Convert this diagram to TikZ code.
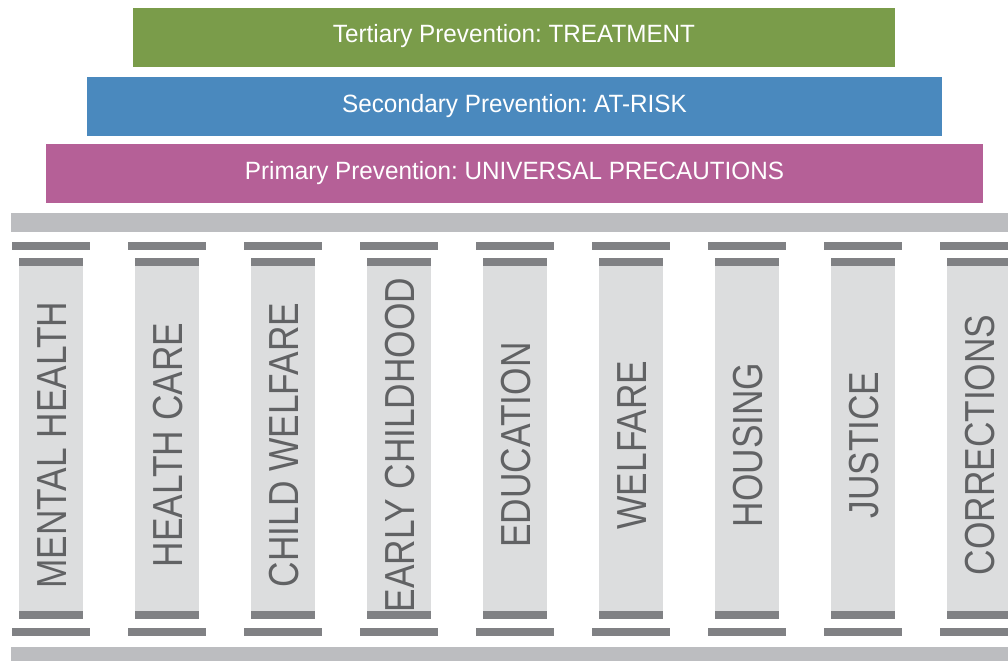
\documentclass[tikz,border=0pt]{standalone}
\usepackage{fontspec}
\setmainfont{Liberation Sans}[FakeStretch=0.84]
\newfontfamily\bannerfont{Liberation Sans}[FakeStretch=0.97]
\frenchspacing
\definecolor{tertgreen}{HTML}{7A9C4A}
\definecolor{secblue}{HTML}{4A89BE}
\definecolor{primpink}{HTML}{B56097}
\definecolor{slabgrey}{HTML}{BCBDC0}
\definecolor{capgrey}{HTML}{808184}
\definecolor{shaftgrey}{HTML}{DCDDDE}
\definecolor{labelgrey}{HTML}{616264}
\tikzset{
    banner/.style={minimum height=59, inner sep=0pt, text=white,
        font=\bannerfont\fontsize{25}{30}\selectfont, text height=18pt, text depth=7pt},
    pillarlabel/.style={rotate=90, inner sep=0pt, text=labelgrey,
        font=\fontsize{42}{48}\selectfont, text height=30pt, text depth=0pt}
}
\begin{document}
\begin{tikzpicture}[x=1pt, y=-1pt]
    \useasboundingbox (0, 0) rectangle (1008, 661);
    % prevention levels
    \node[banner, fill=tertgreen, minimum width=762] (tert) at (514, 37.5) {Tertiary Prevention: TREATMENT};
    \node[banner, fill=secblue, minimum width=855] (sec) at (514.5, 106.5) {Secondary Prevention: AT-RISK};
    \node[banner, fill=primpink, minimum width=937] (prim) at (514.5, 173.5) {Primary Prevention: UNIVERSAL PRECAUTIONS};
    % slabs
    \fill[slabgrey] (11, 213) rectangle (1008, 232);
    \fill[slabgrey] (11, 647) rectangle (1008, 661);
    % pillars
    \foreach \lbl [count=\i from 0] in {MENTAL HEALTH, HEALTH CARE, CHILD WELFARE, EARLY CHILDHOOD, EDUCATION, WELFARE, HOUSING, JUSTICE, CORRECTIONS} {
        \pgfmathsetmacro{\x}{19 + 116*\i}
        \fill[capgrey] (\x - 7, 242) rectangle (\x + 71, 250);
        \fill[capgrey] (\x - 7, 628) rectangle (\x + 71, 636);
        \fill[capgrey] (\x, 258) rectangle (\x + 64, 266);
        \fill[capgrey] (\x, 611) rectangle (\x + 64, 619);
        \fill[shaftgrey] (\x, 266) rectangle (\x + 64, 611);
        \node[pillarlabel] (lbl-\i) at (\x + 32, 445) {\lbl};
    }
\end{tikzpicture}
\end{document}
